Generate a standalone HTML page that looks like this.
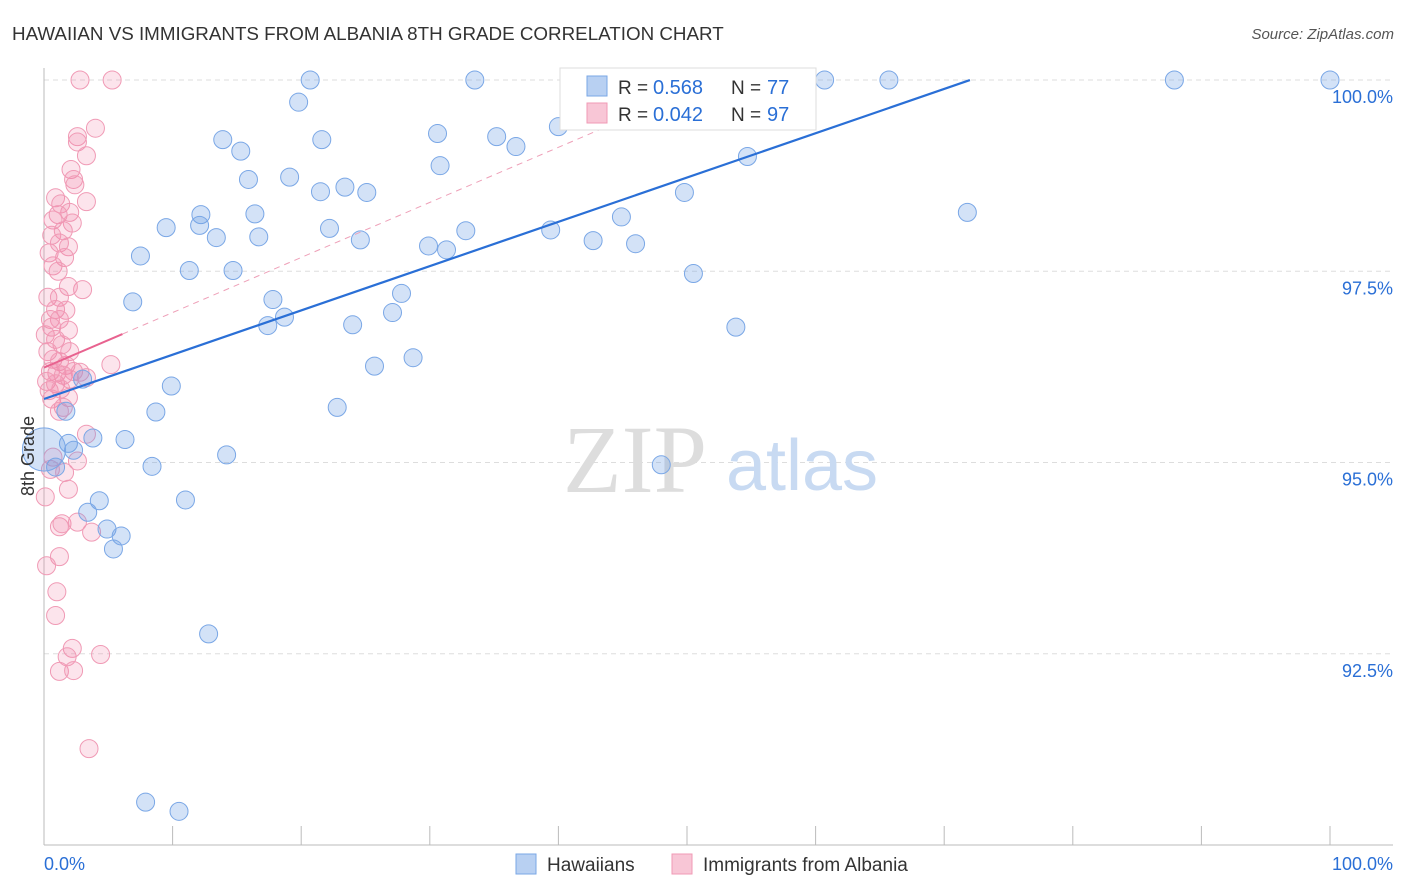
<!DOCTYPE html>
<html><head><meta charset="utf-8"><style>
body{margin:0;background:#fff;font-family:"Liberation Sans",sans-serif;}
#wrap{position:relative;width:1406px;height:892px;overflow:hidden;}
</style></head><body>
<div id="wrap">
<svg id="chart" width="1406" height="892" xmlns="http://www.w3.org/2000/svg">
<text x="12" y="40" font-size="18.8" fill="#333">HAWAIIAN VS IMMIGRANTS FROM ALBANIA 8TH GRADE CORRELATION CHART</text>
<text x="1394" y="39" font-size="15" fill="#555" font-style="italic" text-anchor="end">Source: ZipAtlas.com</text>
<g id="grid"></g>
<text x="635" y="492" font-size="96" fill="#ddd" font-family="Liberation Serif" text-anchor="middle">ZIP</text>
<text x="802" y="490" font-size="72" fill="#c8daf2" text-anchor="middle">atlas</text>
<g id="pts"></g>
<g id="lines"></g>
<text transform="translate(34,456) rotate(-90)" font-size="18" fill="#333" text-anchor="middle">8th Grade</text>
<g>
<rect x="560" y="68" width="256" height="62" fill="#fff" stroke="#ddd"/>
<rect x="587" y="76" width="20" height="20" fill="#b8d0f2" stroke="#7aa7e6"/>
<text x="618" y="94" font-size="19" fill="#333">R =</text>
<text x="653" y="94" font-size="20" fill="#2a6fd6">0.568</text>
<text x="731" y="94" font-size="19" fill="#333">N =</text>
<text x="767" y="94" font-size="20" fill="#2a6fd6">77</text>
<rect x="587" y="103" width="20" height="20" fill="#f8c6d6" stroke="#f09ab5"/>
<text x="618" y="121" font-size="19" fill="#333">R =</text>
<text x="653" y="121" font-size="20" fill="#2a6fd6">0.042</text>
<text x="731" y="121" font-size="19" fill="#333">N =</text>
<text x="767" y="121" font-size="20" fill="#2a6fd6">97</text>
</g>
<g>
<rect x="516" y="854" width="20" height="20" fill="#b8d0f2" stroke="#7aa7e6"/>
<text x="547" y="871" font-size="19" fill="#333">Hawaiians</text>
<rect x="672" y="854" width="20" height="20" fill="#f8c6d6" stroke="#f09ab5"/>
<text x="703" y="871" font-size="19" fill="#333">Immigrants from Albania</text>
</g>
</svg>
<script>
const blueX=[20.7,33.5,44.6,60.7,65.7,87.9,100,19.8,40.0,30.6,35.2,13.9,21.6,36.7,15.3,54.7,30.8,15.9,19.1,23.4,21.5,25.1,49.8,12.2,16.4,44.9,71.8,9.5,12.1,22.2,32.8,39.4,13.4,16.7,24.6,42.7,46.0,29.9,31.3,7.5,11.3,14.7,50.5,27.8,6.9,17.8,18.7,27.1,17.4,24.0,53.8,28.7,25.7,3.0,9.9,8.7,22.8,1.7,3.8,6.3,1.9,2.3,14.2,8.4,48.0,0.9,11.0,4.3,3.4,4.9,6.0,5.4,12.8,7.9,10.5,0];
const blueY=[100,100,100,100,100,100,100,99.71,99.39,99.30,99.26,99.22,99.22,99.13,99.07,99.00,98.88,98.70,98.73,98.60,98.54,98.53,98.53,98.24,98.25,98.21,98.27,98.07,98.10,98.06,98.03,98.04,97.94,97.95,97.91,97.90,97.86,97.83,97.78,97.70,97.51,97.51,97.47,97.21,97.10,97.13,96.90,96.96,96.79,96.80,96.77,96.37,96.26,96.09,96.00,95.66,95.72,95.67,95.32,95.30,95.25,95.16,95.10,94.95,94.97,94.94,94.51,94.50,94.35,94.13,94.04,93.87,92.76,90.56,90.44,95.17];
const blueSize=blueX.map((v,i)=>i===blueX.length-1?2.4:1);
const pinkX=[2.8,5.3,4.0,2.6,2.6,3.3,2.1,2.3,2.4,3.3,0.9,1.3,2.0,1.1,0.7,2.2,1.5,0.6,1.2,1.9,0.4,1.6,0.7,1.1,3.0,1.9,0.3,1.2,0.9,1.7,0.5,1.2,0.6,1.9,0.1,0.9,1.4,0.3,2.0,0.7,1.2,1.7,5.2,0.5,1.0,1.5,2.3,2.8,3.3,0.2,0.9,2.0,0.4,1.3,1.9,0.6,1.5,3.3,1.2,0.7,2.6,0.5,1.6,1.9,0.1,1.2,1.4,2.6,3.7,1.2,0.2,1.0,0.9,2.2,4.4,1.8,1.2,2.3,3.5];
const pinkY=[100,100,99.37,99.26,99.19,99.01,98.83,98.70,98.63,98.41,98.46,98.38,98.27,98.24,98.17,98.13,98.03,97.97,97.87,97.82,97.74,97.68,97.57,97.50,97.26,97.30,97.16,97.16,97.00,96.99,96.87,96.87,96.77,96.73,96.67,96.61,96.54,96.45,96.45,96.35,96.32,96.27,96.28,96.19,96.17,96.14,96.19,96.18,96.11,96.06,96.03,96.09,95.94,95.96,95.85,95.83,95.72,95.37,95.67,95.07,95.02,94.91,94.87,94.65,94.55,94.16,94.20,94.22,94.09,93.77,93.65,93.31,93.00,92.57,92.49,92.46,92.27,92.28,91.26];
const yTicks=[100,97.5,95,92.5];
const yTickLabels=["100.0%","97.5%","95.0%","92.5%"];
const xTickLabels=["0.0%","100.0%"];
const blueTrend=[95.83,0.0579,72.0];
const pinkTrend=[96.24,0.072,6.1,43.2];

const NS="http://www.w3.org/2000/svg";
const X0=44,X1=1330,Y0=845,Y1=80;
const sx=v=>X0+(v-0)/100*(X1-X0);
const sy=v=>Y1+(100-v)/10*(Y0-Y1);
function mk(tag,attrs,parent){const e=document.createElementNS(NS,tag);for(const k in attrs)e.setAttribute(k,attrs[k]);parent.appendChild(e);return e;}
const grid=document.getElementById('grid');
yTicks.forEach((t,i)=>{
  const l=mk('line',{x1:X0,x2:1393,y1:sy(t),y2:sy(t),stroke:'#ddd','stroke-dasharray':'5,4'},grid);
  
  
  const tx=mk('text',{x:1393,y:sy(t)+23,'font-size':18,fill:'#2a6fd6','text-anchor':'end'},grid);
  tx.textContent=yTickLabels[i];
  
  
});
for(let i=0;i<=10;i++){
  const l=mk('line',{x1:sx(i*10),x2:sx(i*10),y1:826,y2:Y0,stroke:'#bbb'},grid);
  
  
}
const ax=mk('line',{x1:X0,x2:1393,y1:Y0,y2:Y0,stroke:'#bbb'},grid);


const ay=mk('line',{x1:X0,x2:X0,y1:68,y2:Y0,stroke:'#bbb'},grid);


const xl0=mk('text',{x:44,y:870,'font-size':18,fill:'#2a6fd6'},grid);xl0.textContent=xTickLabels[0];


const xl1=mk('text',{x:1393,y:870,'font-size':18,fill:'#2a6fd6','text-anchor':'end'},grid);xl1.textContent=xTickLabels[1];



const pts=document.getElementById('pts');
pinkX.forEach((x,i)=>{
  const c=mk('circle',{cx:sx(x),cy:sy(pinkY[i]),r:9,fill:'rgba(240,130,170,0.22)',stroke:'#f09ab5','stroke-width':1},pts);
  
  
});
blueX.forEach((x,i)=>{
  const c=mk('circle',{cx:sx(x),cy:sy(blueY[i]),r:9*blueSize[i],fill:'rgba(110,160,230,0.3)',stroke:'#7aa7e6','stroke-width':1},pts);
  
  
});
const lines=document.getElementById('lines');
const bl=mk('line',{x1:sx(0),y1:sy(blueTrend[0]),x2:sx(blueTrend[2]),y2:sy(blueTrend[0]+blueTrend[1]*blueTrend[2]),stroke:'#2a6fd6','stroke-width':2.2},lines);


const pl=mk('line',{x1:sx(0),y1:sy(pinkTrend[0]),x2:sx(pinkTrend[2]),y2:sy(pinkTrend[0]+pinkTrend[1]*pinkTrend[2]),stroke:'#e8628f','stroke-width':2},lines);


const pd=mk('line',{x1:sx(pinkTrend[2]),y1:sy(pinkTrend[0]+pinkTrend[1]*pinkTrend[2]),x2:sx(pinkTrend[3]),y2:sy(pinkTrend[0]+pinkTrend[1]*pinkTrend[3]),stroke:'#eea0b8','stroke-width':1,'stroke-dasharray':'6,5'},lines);


</script>
</div>
</body></html>
